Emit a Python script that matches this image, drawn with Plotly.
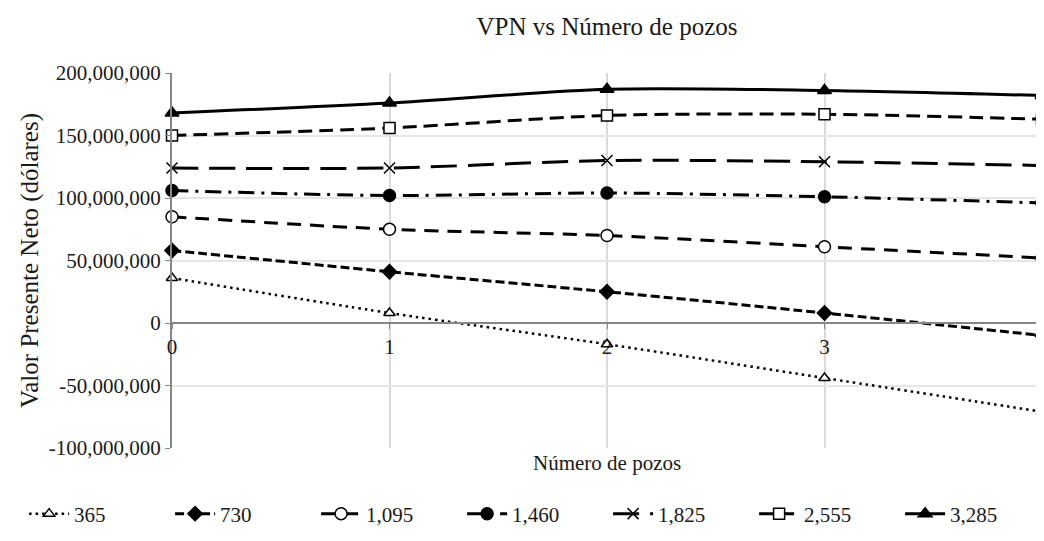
import plotly.graph_objects as go

# Data
pozos = [0, 1, 2, 3, 4]
series_names = ["365", "730", "1,095", "1,460", "1,825", "2,555", "3,285"]
vpn_365 = [36e6, 8e6, -17e6, -44e6, -71e6]
vpn_730 = [58e6, 41e6, 25e6, 8e6, -10e6]
vpn_1095 = [85e6, 75e6, 70e6, 61e6, 52e6]
vpn_1460 = [106e6, 102e6, 104e6, 101e6, 96e6]
vpn_1825 = [124e6, 124e6, 130e6, 129e6, 126e6]
vpn_2555 = [150e6, 156e6, 166e6, 167e6, 163e6]
vpn_3285 = [168e6, 176e6, 187e6, 186e6, 182e6]
y_ticks = [-100e6, -50e6, 0, 50e6, 100e6, 150e6, 200e6]

FONT = "Liberation Serif, Times New Roman, serif"
TXT = "#1a1a1a"

# line / marker styles per series
styles = [
    dict(dash="2.5px,4px", width=2.5, symbol="triangle-up", fill="white", size=10),
    dict(dash="9px,4px", width=3, symbol="diamond", fill="black", size=11),
    dict(dash="14px,9px", width=3, symbol="circle", fill="white", size=12),
    dict(dash="16px,7px,3px,7px", width=3, symbol="circle", fill="black", size=12),
    dict(dash="26px,11px", width=3, symbol="x-thin", fill="black", size=11),
    dict(dash="14px,7px", width=3, symbol="square", fill="white", size=11),
    dict(dash="solid", width=3, symbol="triangle-up", fill="black", size=12),
]
values = [vpn_365, vpn_730, vpn_1095, vpn_1460, vpn_1825, vpn_2555, vpn_3285]

fig = go.Figure()
for name, vals, st in zip(series_names, values, styles):
    fig.add_trace(
        go.Scatter(
            x=pozos,
            y=vals,
            name=name,
            mode="lines+markers",
            line=dict(color="black", width=st["width"], dash=st["dash"],
                      shape="spline", smoothing=0.8),
            marker=dict(symbol=st["symbol"], size=st["size"], color=st["fill"],
                        line=dict(color="black", width=1.5)),
            cliponaxis=False,
        )
    )

# the page adds an 8px offset, so the figure is laid out 8px up/left
fig.update_layout(
    width=1044,
    height=541,
    margin=dict(l=164, r=10, t=65, b=101),
    paper_bgcolor="white",
    plot_bgcolor="white",
    font=dict(family=FONT, size=21, color=TXT),
    title=dict(text="VPN vs Número de pozos", x=0.5, xref="paper",
               y=1 - 18 / 541, yanchor="middle",
               font=dict(size=25, color=TXT)),
    showlegend=True,
    legend=dict(orientation="h", x=-0.17, xanchor="left", y=-0.176,
                yanchor="middle", font=dict(size=21), itemwidth=40,
                entrywidth=91, entrywidthmode="pixels",
                traceorder="normal", tracegroupgap=0),
    xaxis=dict(
        range=[0, 4],
        tickvals=pozos,
        ticktext=[str(p) for p in pozos],
        anchor="free",
        position=1 / 3,
        showline=True,
        linecolor="#868686",
        linewidth=2,
        ticks="outside",
        ticklen=5,
        tickcolor="#868686",
        ticklabeloverflow="allow",
        showgrid=True,
        gridcolor="#d9d9d9",
        gridwidth=1.5,
        zeroline=False,
        automargin=False,
    ),
    yaxis=dict(
        range=[-100e6, 200e6],
        tickvals=y_ticks,
        ticktext=[f"{v:,.0f}" for v in y_ticks],
        showline=True,
        linecolor="#868686",
        linewidth=2,
        ticks="outside",
        ticklen=5,
        tickcolor="#868686",
        showgrid=True,
        gridcolor="#e6e6e6",
        gridwidth=1.5,
        zeroline=False,
        automargin=False,
        title=dict(text="Valor Presente Neto (dólares)", standoff=3),
    ),
    annotations=[
        dict(text="Número de pozos", x=0.5, xref="paper", y=-0.04,
             yref="paper", yanchor="middle", showarrow=False,
             font=dict(size=21, color=TXT)),
    ],
)

fig.write_html("out.html")
